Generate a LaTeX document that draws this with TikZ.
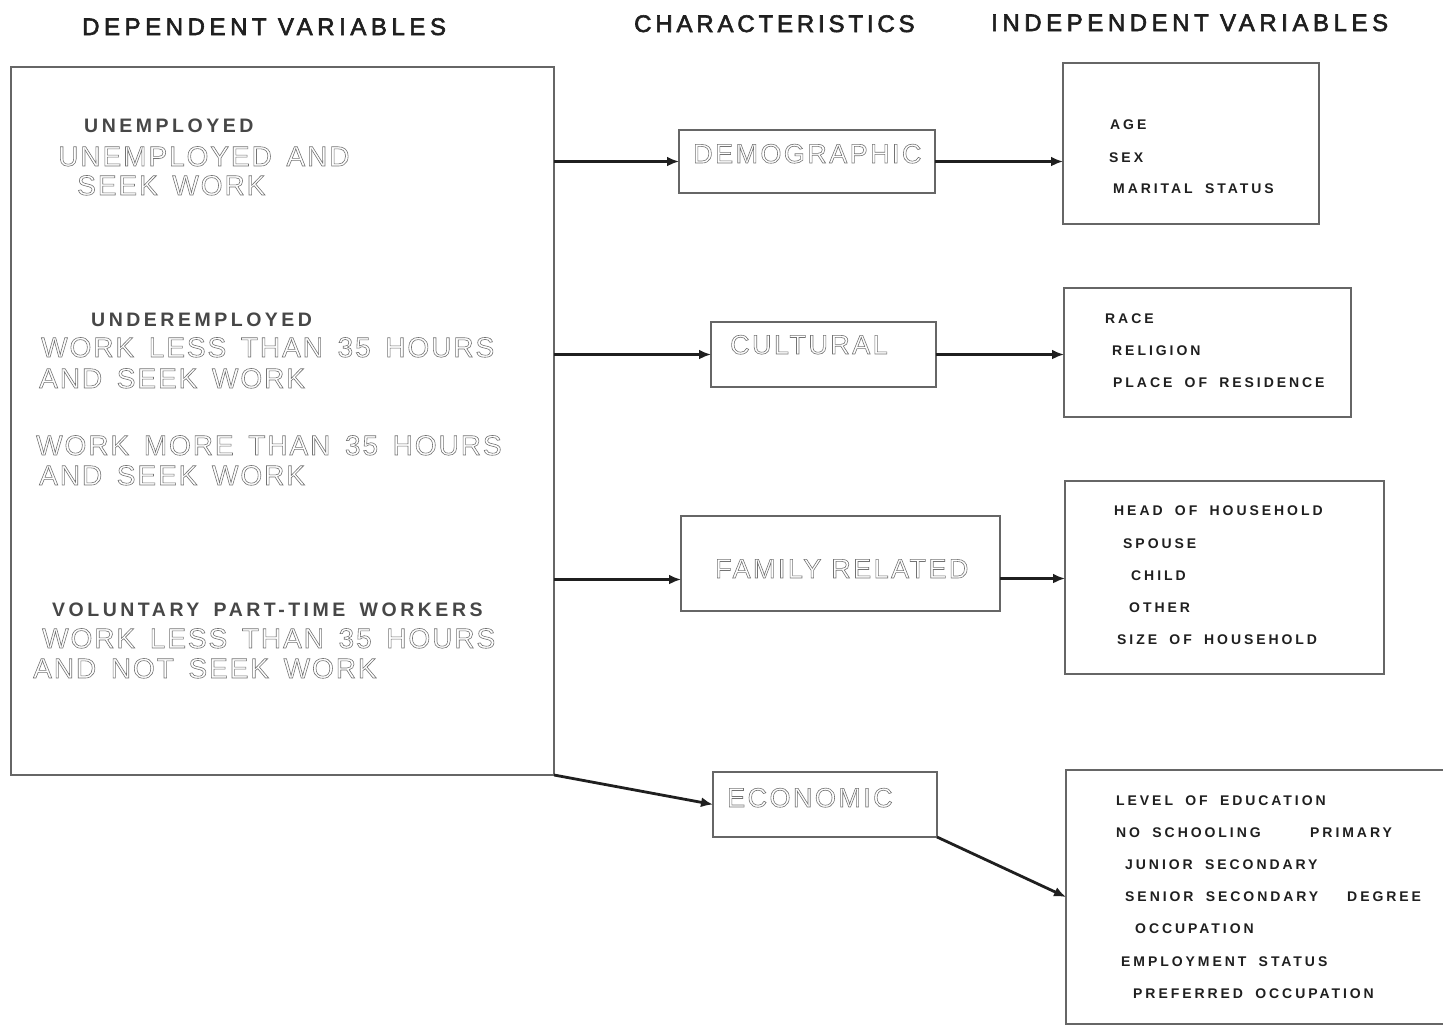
\documentclass[tikz,border=0pt]{standalone}
\usepackage{fontspec}
\usetikzlibrary{arrows.meta}
\setmainfont{Liberation Sans}
\newfontfamily\titlefont[LetterSpace=19,FakeBold=2.5]{Liberation Sans}
\newfontfamily\titlefontb[LetterSpace=16,FakeBold=2.5]{Liberation Sans}
\newfontfamily\labfont[LetterSpace=21,WordSpace=1.8]{Liberation Sans}
\newfontfamily\dlabfont[LetterSpace=18,WordSpace=1.6]{Liberation Sans}
\newfontfamily\outfont[LetterSpace=7,WordSpace=1.5]{Liberation Sans}
\newfontfamily\charfont[LetterSpace=9]{Liberation Sans}
\newcommand\outl[1]{\special{pdf:literal 1 Tr 0.6 w}#1\special{pdf:literal 0 Tr}}
\tikzset{
  ttl/.style={anchor=base west, inner sep=0pt, text=black!88, font=\titlefont\fontsize{24}{24}\selectfont},
  ttlb/.style={ttl, font=\titlefontb\fontsize{24}{24}\selectfont},
  dlab/.style={anchor=base west, inner sep=0pt, text=black!72, font=\dlabfont\bfseries\fontsize{19.5}{20}\selectfont},
  olab/.style={anchor=base west, inner sep=0pt, text=black!55, font=\outfont\fontsize{28}{28}\selectfont},
  clab/.style={anchor=base west, inner sep=0pt, text=black!55, font=\charfont\fontsize{27}{27}\selectfont},
  ilab/.style={anchor=base west, inner sep=0pt, text=black!88, font=\labfont\bfseries\fontsize{14}{14}\selectfont},
  box/.style={draw=black!60, line width=1.5pt, inner sep=0pt, outer sep=0pt, anchor=north west},
  arr/.style={draw=black!88, line width=2.8pt, -{Latex[length=12pt,width=10pt]}}
}
\begin{document}
\begin{tikzpicture}[x=1pt,y=-1pt]
\useasboundingbox (0,0) rectangle (1443,1026);
% titles
\node[ttl] (t1) at (82,35) {DEPENDENT VARIABLES};
\node[ttlb] (t2) at (634,32) {CHARACTERISTICS};
\node[ttl] (t3) at (991,31) {INDEPENDENT VARIABLES};
% dependent box
\node[box, minimum width=543pt, minimum height=708pt] (dep) at (11,67) {};
\node[dlab] (d1) at (84,132) {UNEMPLOYED};
\node[olab] (d2) at (58,166) {\outl{UNEMPLOYED AND}};
\node[olab] (d3) at (77,195) {\outl{SEEK WORK}};
\node[dlab] (d4) at (91,326) {UNDEREMPLOYED};
\node[olab] (d5) at (41,357) {\outl{WORK LESS THAN 35 HOURS}};
\node[olab] (d6) at (39,388) {\outl{AND SEEK WORK}};
\node[olab] (d7) at (36,455) {\outl{WORK MORE THAN 35 HOURS}};
\node[olab] (d8) at (39,485) {\outl{AND SEEK WORK}};
\node[dlab] (d9) at (52,616) {VOLUNTARY PART-TIME WORKERS};
\node[olab] (d10) at (42,648) {\outl{WORK LESS THAN 35 HOURS}};
\node[olab] (d11) at (33,678) {\outl{AND NOT SEEK WORK}};
% characteristics
\node[box, minimum width=256pt, minimum height=63pt] (demo) at (679,130) {};
\node[clab] (demot) at (693,163) {\outl{DEMOGRAPHIC}};
\node[box, minimum width=225pt, minimum height=65pt] (cult) at (711,322) {};
\node[clab] (cultt) at (730,354) {\outl{CULTURAL}};
\node[box, minimum width=319pt, minimum height=95pt] (fam) at (681,516) {};
\node[clab] (famt) at (715,578) {\outl{FAMILY RELATED}};
\node[box, minimum width=224pt, minimum height=65pt] (econ) at (713,772) {};
\node[clab] (econt) at (727,807) {\outl{ECONOMIC}};
% independent boxes
\node[box, minimum width=256pt, minimum height=161pt] (ind1) at (1063,63) {};
\node[ilab] (a1) at (1110,129) {AGE};
\node[ilab] (a2) at (1109,162) {SEX};
\node[ilab] (a3) at (1113,193) {MARITAL STATUS};
\node[box, minimum width=287pt, minimum height=129pt] (ind2) at (1064,288) {};
\node[ilab] (b1) at (1105,323) {RACE};
\node[ilab] (b2) at (1112,355) {RELIGION};
\node[ilab] (b3) at (1113,387) {PLACE OF RESIDENCE};
\node[box, minimum width=319pt, minimum height=193pt] (ind3) at (1065,481) {};
\node[ilab] (c1) at (1114,515) {HEAD OF HOUSEHOLD};
\node[ilab] (c2) at (1123,548) {SPOUSE};
\node[ilab] (c3) at (1131,580) {CHILD};
\node[ilab] (c4) at (1129,612) {OTHER};
\node[ilab] (c5) at (1117,644) {SIZE OF HOUSEHOLD};
\node[box, minimum width=390pt, minimum height=254pt] (ind4) at (1066,770) {};
\node[ilab] (e1) at (1116,805) {LEVEL OF EDUCATION};
\node[ilab] (e2) at (1116,837) {NO SCHOOLING};
\node[ilab] (e3) at (1310,837) {PRIMARY};
\node[ilab] (e4) at (1125,869) {JUNIOR SECONDARY};
\node[ilab] (e5) at (1125,901) {SENIOR SECONDARY};
\node[ilab] (e6) at (1347,901) {DEGREE};
\node[ilab] (e7) at (1135,933) {OCCUPATION};
\node[ilab] (e8) at (1121,966) {EMPLOYMENT STATUS};
\node[ilab] (e9) at (1133,998) {PREFERRED OCCUPATION};
% connectors
\draw[arr] (dep.east |- demo.west) -- (demo.west);
\draw[arr] (dep.east |- cult.west) -- (cult.west);
\draw[arr] ([yshift=-16pt]fam.west -| dep.east) -- ([yshift=-16pt]fam.west);
\draw[arr] (dep.south east) -- (econ.west);
\draw[arr] (demo.east) -- (demo.east -| ind1.west);
\draw[arr] (cult.east) -- (cult.east -| ind2.west);
\draw[arr] ([yshift=-15pt]fam.east) -- ([yshift=-15pt]fam.east -| ind3.west);
\draw[arr] (econ.south east) -- (ind4.west);
\end{tikzpicture}
\end{document}
